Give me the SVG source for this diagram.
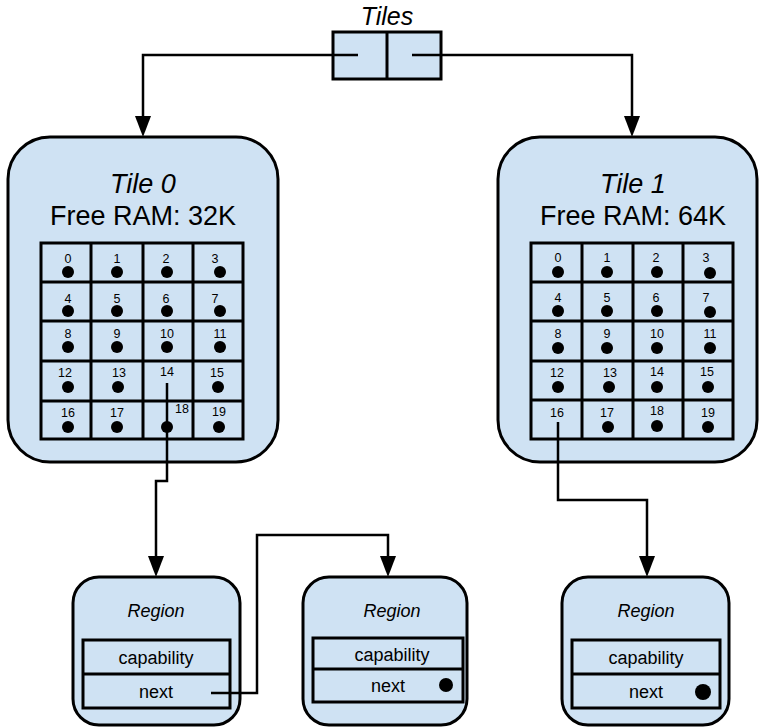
<svg xmlns="http://www.w3.org/2000/svg" width="759" height="728" viewBox="0 0 759 728">
  <style>
    .box { fill: #cfe2f3; stroke: #000; stroke-width: 3; }
    .grid { fill: none; stroke: #000; stroke-width: 3; }
    .wire { fill: none; stroke: #000; stroke-width: 2.5; }
    .head { fill: #000; }
    .dot { fill: #000; }
    text { font-family: "Liberation Sans", Arial, sans-serif; fill: #000; text-anchor: middle; }
    .title { font-size: 27px; }
    .caption { font-size: 25px; }
    .it { font-style: italic; }
    .num { font-size: 12.5px; }
    .reg { font-size: 18px; }
    .field { font-size: 18px; }
  </style>

  <!-- Tiles array head -->
  <g id="tiles">
    <text class="caption it" x="387" y="25">Tiles</text>
    <rect class="box" x="333" y="32" width="108" height="47"/>
    <line class="grid" x1="387" y1="32" x2="387" y2="79"/>
  </g>

  <!-- Tile 0 -->
  <g id="tile0">
    <rect class="box" x="8" y="137" width="270" height="325" rx="42" ry="42"/>
    <text class="title it" x="143" y="193">Tile 0</text>
    <text class="title" x="143" y="225">Free RAM: 32K</text>
    <rect class="grid" x="41" y="243" width="202" height="196"/>
    <path class="grid" d="M91,243V439M143,243V439M193,243V439M41,282H243M41,321H243M41,361H243M41,401H243"/>
    <g class="num">
      <text x="68" y="263">0</text><text x="117" y="263">1</text><text x="166" y="263">2</text><text x="215" y="263">3</text>
      <text x="68" y="303">4</text><text x="117" y="303">5</text><text x="166" y="303">6</text><text x="215" y="303">7</text>
      <text x="68" y="338">8</text><text x="117" y="338">9</text><text x="167" y="338">10</text><text x="220" y="338">11</text>
      <text x="65" y="377">12</text><text x="119" y="377">13</text><text x="167" y="376">14</text><text x="217" y="377">15</text>
      <text x="68" y="417">16</text><text x="117" y="417">17</text><text x="182" y="413">18</text><text x="219" y="416">19</text>
    </g>
    <g class="dot">
      <circle cx="68" cy="272" r="6"/><circle cx="117" cy="272" r="6"/><circle cx="167" cy="272" r="6"/><circle cx="220" cy="272" r="6"/>
      <circle cx="68" cy="311" r="6"/><circle cx="117" cy="311" r="6"/><circle cx="167" cy="311" r="6"/><circle cx="220" cy="311" r="6"/>
      <circle cx="68" cy="347" r="6"/><circle cx="117" cy="347" r="6"/><circle cx="167" cy="347" r="6"/><circle cx="220" cy="347" r="6"/>
      <circle cx="68" cy="387" r="6"/><circle cx="118" cy="387" r="6"/><circle cx="218" cy="387" r="6"/>
      <circle cx="68" cy="427" r="6"/><circle cx="117" cy="427" r="6"/><circle cx="167" cy="427" r="6"/><circle cx="219" cy="427" r="6"/>
    </g>
  </g>

  <!-- Tile 1 -->
  <g id="tile1">
    <rect class="box" x="498" y="137" width="259" height="325" rx="42" ry="42"/>
    <text class="title it" x="633" y="193">Tile 1</text>
    <text class="title" x="633" y="225">Free RAM: 64K</text>
    <rect class="grid" x="531" y="243" width="202" height="196"/>
    <path class="grid" d="M582,243V439M633,243V439M683,243V439M531,282H733M531,321H733M531,361H733M531,400H733"/>
    <g class="num">
      <text x="558" y="262">0</text><text x="607" y="262">1</text><text x="656" y="262">2</text><text x="706" y="262">3</text>
      <text x="558" y="302">4</text><text x="607" y="302">5</text><text x="656" y="302">6</text><text x="706" y="302">7</text>
      <text x="558" y="338">8</text><text x="607" y="338">9</text><text x="657" y="338">10</text><text x="710" y="338">11</text>
      <text x="557" y="377">12</text><text x="610" y="377">13</text><text x="657" y="376">14</text><text x="707" y="376">15</text>
      <text x="557" y="417">16</text><text x="607" y="417">17</text><text x="657" y="415">18</text><text x="708" y="417">19</text>
    </g>
    <g class="dot">
      <circle cx="558" cy="272" r="6"/><circle cx="607" cy="272" r="6"/><circle cx="657" cy="272" r="6"/><circle cx="710" cy="273" r="6"/>
      <circle cx="558" cy="311" r="6"/><circle cx="607" cy="311" r="6"/><circle cx="657" cy="311" r="6"/><circle cx="710" cy="312" r="6"/>
      <circle cx="558" cy="348" r="6"/><circle cx="607" cy="348" r="6"/><circle cx="657" cy="348" r="6"/><circle cx="710" cy="348" r="6"/>
      <circle cx="558" cy="387" r="6"/><circle cx="609" cy="387" r="6"/><circle cx="657" cy="387" r="6"/><circle cx="708" cy="387" r="6"/>
      <circle cx="608" cy="427" r="6"/><circle cx="657" cy="426" r="6"/><circle cx="708" cy="427" r="6"/>
    </g>
  </g>

  <!-- Region nodes -->
  <g id="region-a">
    <rect class="box" x="73" y="577" width="167" height="148" rx="26" ry="26"/>
    <text class="reg it" x="156" y="617">Region</text>
    <rect class="grid" x="83" y="640" width="147" height="68"/>
    <line class="grid" x1="83" y1="674" x2="230" y2="674"/>
    <text class="field" x="156" y="664">capability</text>
    <text class="field" x="156" y="698">next</text>
  </g>

  <g id="region-b">
    <rect class="box" x="303" y="577" width="164" height="148" rx="26" ry="26"/>
    <text class="reg it" x="392" y="617">Region</text>
    <rect class="grid" x="313" y="638" width="150" height="64"/>
    <line class="grid" x1="313" y1="669" x2="463" y2="669"/>
    <text class="field" x="392" y="661">capability</text>
    <text class="field" x="388" y="692">next</text>
    <circle class="dot" cx="446" cy="685" r="7"/>
  </g>

  <g id="region-c">
    <rect class="box" x="562" y="577" width="167" height="148" rx="26" ry="26"/>
    <text class="reg it" x="646" y="617">Region</text>
    <rect class="grid" x="572" y="640" width="148" height="68"/>
    <line class="grid" x1="572" y1="674" x2="720" y2="674"/>
    <text class="field" x="646" y="664">capability</text>
    <text class="field" x="646" y="698">next</text>
    <circle class="dot" cx="703" cy="692" r="8"/>
  </g>

  <!-- Pointers -->
  <g id="connectors">
    <path class="wire" d="M358,55H143V116"/>
    <path class="head" d="M135,116H151L143,137Z"/>
    <path class="wire" d="M412,55H632V116"/>
    <path class="head" d="M624,116H640L632,137Z"/>
    <path class="wire" d="M167,383V481H156V556"/>
    <path class="head" d="M148,556H164L156,577Z"/>
    <path class="wire" d="M211,693H257V535H388V556"/>
    <path class="head" d="M380,556H396L388,577Z"/>
    <path class="wire" d="M558,422V500H647V556"/>
    <path class="head" d="M639,556H655L647,577Z"/>
  </g>
</svg>
